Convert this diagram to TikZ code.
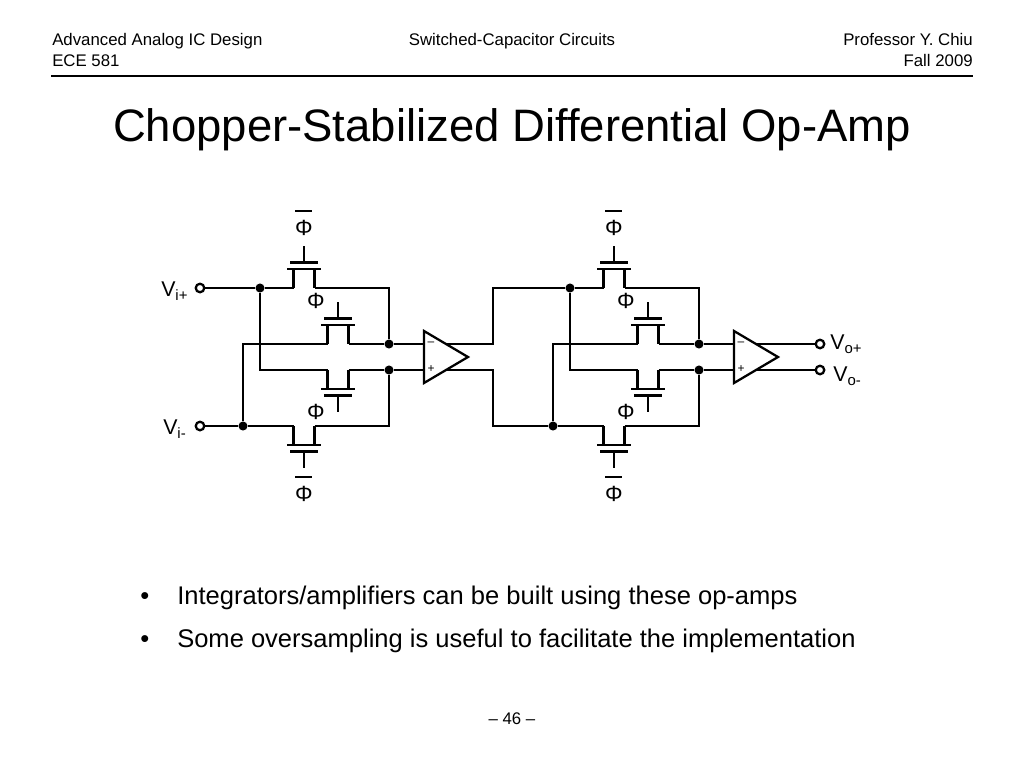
\documentclass[tikz,border=0pt]{standalone}
\usepackage{fontspec}
\setmainfont{Liberation Sans}
\newcommand{\vlabel}[2]{V\raisebox{-3pt}{\fontsize{11.2}{12}\selectfont #1#2}}
\newcommand{\fet}[4]{
    \coordinate (#1s) at (#2-10.5,#3);
    \coordinate (#1d) at (#2+10.5,#3);
    \coordinate (#1g) at (#2,#3+#4*25);
    \coordinate (#1e) at (#2,#3+#4*42);
    \draw[wire] (#1s) -- ++(0,#4*19) -- ++(21,0) -- (#1d);
    \draw[wire] (#2-17,#3+#4*19) -- (#2+17,#3+#4*19);
    \draw[wire] (#2-14,#3+#4*25.5) -- (#2+14,#3+#4*25.5);
    \draw[wire] (#1g) -- (#1e);
}
\tikzset{
    wire/.style={line width=1.7pt},
    dot/.style={shape=circle,fill=black,inner sep=0pt,minimum size=6.8pt},
    pin/.style={shape=circle,draw=black,fill=white,line width=1.7pt,inner sep=0pt,minimum size=6.4pt},
    phase/.style={inner sep=0pt,font=\fontsize{16.5}{16.5}\selectfont},
    sign/.style={inner sep=0pt,font=\fontsize{9}{9}\selectfont},
    head/.style={inner sep=0pt,font=\fontsize{12.6}{12.6}\selectfont},
    bullet/.style={inner sep=0pt,anchor=base west,font=\fontsize{19.15}{19.15}\selectfont},
    vname/.style={inner sep=0pt,anchor=base west,font=\fontsize{16}{16}\selectfont},
}
\begin{document}
\begin{tikzpicture}[x=0.75pt,y=-0.75pt]
    \useasboundingbox (0,0) rectangle (1024,768);

    \node[head,anchor=base west] (course) at (52,45) {Advanced Analog IC Design};
    \node[head,anchor=base west] (ece) at (52,66) {ECE 581};
    \node[head,anchor=base] (topic) at (512,45) {Switched-Capacitor Circuits};
    \node[head,anchor=base east] (prof) at (973,45) {Professor Y. Chiu};
    \node[head,anchor=base east] (term) at (973,66) {Fall 2009};
    \coordinate (ruleL) at (51,76);
    \coordinate (ruleR) at (973,76);
    \draw[wire] (ruleL) -- (ruleR);
    \node[inner sep=0pt,anchor=base,font=\fontsize{34.1}{34.1}\selectfont] (title) at (512,141) {Chopper-Stabilized Differential Op-Amp};

    \foreach \i/\x in {1/0,2/310}{
        \node[dot] (p\i) at (\x+260,288) {};
        \node[dot] (n\i) at (\x+243,426) {};
        \node[dot] (dm\i) at (\x+389,344) {};
        \node[dot] (dp\i) at (\x+389,370) {};

        \fet{t\i}{\x+304}{288}{-1}
        \fet{u\i}{\x+338}{344}{-1}
        \fet{l\i}{\x+338}{370}{1}
        \fet{b\i}{\x+304}{426}{1}

        \draw[wire] (p\i) -- (t\i s);
        \draw[wire] (t\i d) -| (dm\i);
        \draw[wire] (p\i) |- (l\i s);
        \draw[wire] (l\i d) -- (dp\i);
        \draw[wire] (n\i) |- (u\i s);
        \draw[wire] (u\i d) -- (dm\i);
        \draw[wire] (n\i) -- (b\i s);
        \draw[wire] (b\i d) -| (dp\i);

        \node[phase] (ft\i) at (\x+304,228) {Φ};
        \node[phase] (fb\i) at (\x+304,494) {Φ};
        \node[phase] (fu\i) at (\x+316,300.5) {Φ};
        \node[phase] (fl\i) at (\x+316,412) {Φ};
        \coordinate (bt\i l) at (\x+295,211);
        \coordinate (bt\i r) at (\x+312,211);
        \coordinate (bb\i l) at (\x+295,477);
        \coordinate (bb\i r) at (\x+312,477);
        \draw[wire] (bt\i l) -- (bt\i r);
        \draw[wire] (bb\i l) -- (bb\i r);

        \coordinate (im\i) at (\x+424,344);
        \coordinate (ip\i) at (\x+424,370);
        \coordinate (qm\i) at (\x+446,344);
        \coordinate (qp\i) at (\x+446,370);
        \coordinate (a\i t) at (\x+424,331);
        \coordinate (a\i b) at (\x+424,383);
        \coordinate (a\i o) at (\x+468,357);
        \draw[wire] (dm\i) -- (im\i);
        \draw[wire] (dp\i) -- (ip\i);
        \draw[wire] (a\i t) -- (a\i o) -- (a\i b) -- cycle;
        \node[sign] (sm\i) at (\x+431,344) {–};
        \node[sign] (sp\i) at (\x+431,369.5) {+};
    }

    \node[pin] (vip) at (200,288) {};
    \node[pin] (vin) at (200,426) {};
    \node[pin] (vop) at (820,344) {};
    \node[pin] (von) at (820,370) {};
    \coordinate (j1) at (493,288);
    \coordinate (j2) at (493,426);

    \draw[wire] (vip) -- (p1);
    \draw[wire] (vin) -- (n1);
    \draw[wire] (qm1) -| (j1) -- (p2);
    \draw[wire] (qp1) -| (j2) -- (n2);
    \draw[wire] (qm2) -- (vop);
    \draw[wire] (qp2) -- (von);

    \node[vname] (lip) at (161,296) {\vlabel{i}{+}};
    \node[vname] (lin) at (163,434) {\vlabel{i}{-}};
    \node[vname] (lop) at (830,349) {\vlabel{o}{+}};
    \node[vname] (lon) at (833,381) {\vlabel{o}{-}};

    \node[bullet] (b1) at (140,604) {•};
    \node[bullet] (l1) at (177,604) {Integrators/amplifiers can be built using these op-amps};
    \node[bullet] (b2) at (140,647) {•};
    \node[bullet] (l2) at (177,647) {Some oversampling is useful to facilitate the implementation};

    \node[head,anchor=base] (page) at (512,724) {– 46 –};
\end{tikzpicture}
\end{document}
